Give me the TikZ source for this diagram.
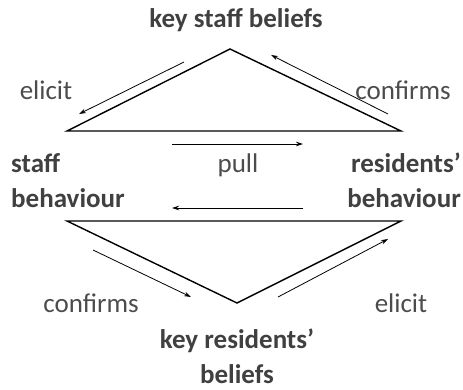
\documentclass[tikz,border=0pt]{standalone}
\usepackage{fontspec}
\setmainfont{Carlito}
\usetikzlibrary{arrows.meta}

\tikzset{
	side/.style={line width=1.4pt},
	flow/.style={line width=0.8pt, -{Stealth[length=7pt, width=4.5pt]}},
	lbl/.style={font=\fontsize{27}{32}\selectfont, text=black!70, inner sep=0pt, anchor=base},
	head/.style={font=\fontsize{27}{32}\selectfont\bfseries, text=black!75, inner sep=0pt, anchor=base}
}

\begin{document}
\begin{tikzpicture}[x=1pt, y=-1pt]
	\useasboundingbox (0,0) rectangle (463,389);
	
	% corners of the two triangles
	\coordinate (TA) at (230,49);
	\coordinate (TL) at (67,131);
	\coordinate (TR) at (401,131);
	\coordinate (BL) at (67,221);
	\coordinate (BR) at (401,221);
	\coordinate (BA) at (237,303);
	
	\draw[side] (TL) -- (TA) -- (TR) -- cycle;
	\draw[side] (BL) -- (BR) -- (BA) -- cycle;
	
	% ends of the arrows
	\coordinate (e1s) at (184,62);
	\coordinate (e1t) at (79,114);
	\coordinate (c1s) at (388,114);
	\coordinate (c1t) at (271,55);
	\coordinate (p1s) at (172,144);
	\coordinate (p1t) at (303,144);
	\coordinate (p2s) at (303,208);
	\coordinate (p2t) at (172,208);
	\coordinate (c2s) at (93,250);
	\coordinate (c2t) at (191,297);
	\coordinate (e2s) at (278,297);
	\coordinate (e2t) at (388,239);
	
	\draw[flow] (e1s) -- (e1t);
	\draw[flow] (c1s) -- (c1t);
	\draw[flow] (p1s) -- (p1t);
	\draw[flow] (p2s) -- (p2t);
	\draw[flow] (c2s) -- (c2t);
	\draw[flow] (e2s) -- (e2t);
	
	\node[head] (ksb) at (236,27) {key staff beliefs};
	\node[lbl] (el1) at (46,99) {elicit};
	\node[lbl] (co1) at (403,99) {confirms};
	\node[head, anchor=base west] (sb1) at (11,172) {staff};
	\node[head, anchor=base west] (sb2) at (11,207) {behaviour};
	\node[lbl] (pl) at (238,172) {pull};
	\node[head, anchor=base east] (rb1) at (461,172) {residents’};
	\node[head, anchor=base east] (rb2) at (461,207) {behaviour};
	\node[lbl] (co2) at (91,312) {confirms};
	\node[lbl] (el2) at (401,312) {elicit};
	\node[head] (krb1) at (237,348) {key residents’};
	\node[head] (krb2) at (237,383) {beliefs};
\end{tikzpicture}
\end{document}
